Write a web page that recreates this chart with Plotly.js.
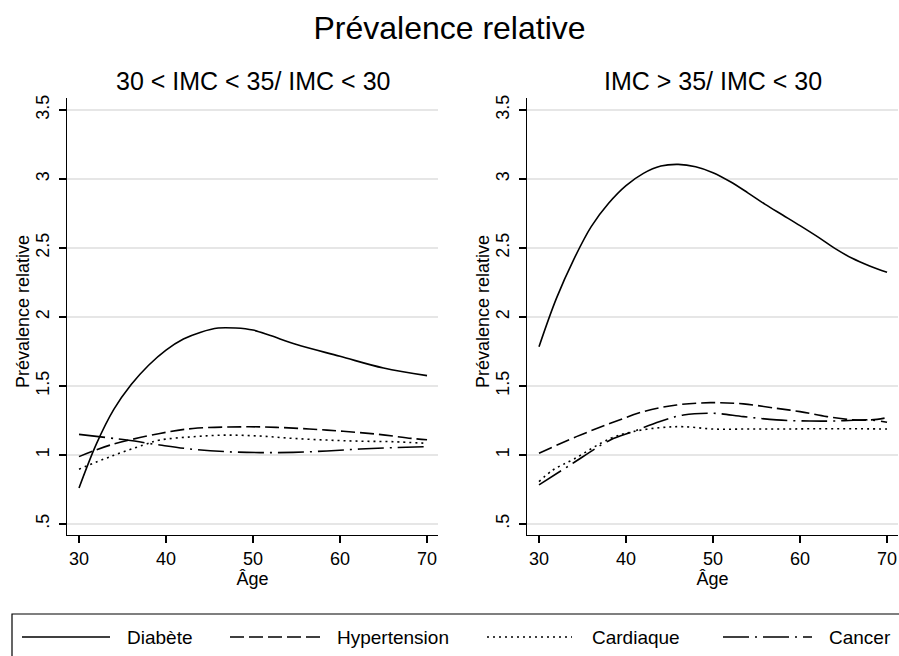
<!DOCTYPE html>
<html>
<head>
<meta charset="utf-8">
<script src="https://cdn.plot.ly/plotly-3.0.1.min.js"></script>
<style>html,body{margin:0;padding:0;background:#fff;}#chart{width:899px;height:656px;}</style>
</head>
<body>
<div id="chart"></div>
<script>
// ---- Data ----
const seriesNames = ["Diabète", "Hypertension", "Cardiaque", "Cancer"];
const panelTitles = ["30 < IMC < 35/ IMC < 30", "IMC > 35/ IMC < 30"];
const xTicks = [30, 40, 50, 60, 70];
const yTickVals = [0.5, 1, 1.5, 2, 2.5, 3, 3.5];
const yTickText = [".5", "1", "1.5", "2", "2.5", "3", "3.5"];

// Panel 1 : 30 < IMC < 35 / IMC < 30
const p1DiabeteAge = [30, 32, 34, 36, 38, 40, 42, 44, 46, 48, 50, 52, 55, 60, 65, 70];
const p1DiabeteVal = [0.76, 1.08, 1.33, 1.51, 1.65, 1.76, 1.84, 1.89, 1.92, 1.92, 1.905, 1.865, 1.80, 1.715, 1.63, 1.575];
const p1HyperAge = [30, 33.6, 39.3, 43.1, 48.9, 52.7, 58.5, 64.2, 68.2, 70];
const p1HyperVal = [0.988, 1.072, 1.156, 1.192, 1.204, 1.2, 1.18, 1.151, 1.12, 1.11];
const p1CardAge = [30, 33.6, 37.4, 39.3, 43.1, 46.9, 50.8, 54.6, 58.5, 62.3, 66.1, 70];
const p1CardVal = [0.897, 0.988, 1.072, 1.108, 1.132, 1.144, 1.137, 1.12, 1.108, 1.1, 1.096, 1.084];
const p1CancerAge = [30, 35.5, 39.3, 43.1, 46.9, 50.8, 54.6, 58.5, 62.3, 66.1, 70];
const p1CancerVal = [1.149, 1.108, 1.072, 1.041, 1.024, 1.017, 1.019, 1.029, 1.043, 1.053, 1.06];

// Panel 2 : IMC > 35 / IMC < 30
const p2DiabeteAge = [30, 32, 34, 36, 38, 40, 42, 44, 46, 48, 50, 52, 54, 56, 58, 60, 62, 64, 66, 68, 70];
const p2DiabeteVal = [1.785, 2.135, 2.418, 2.655, 2.824, 2.952, 3.041, 3.094, 3.106, 3.089, 3.046, 2.98, 2.90, 2.816, 2.739, 2.662, 2.582, 2.497, 2.425, 2.37, 2.324];
const p2HyperAge = [30, 34.3, 38.2, 42, 45.8, 49.7, 53.5, 57.3, 60, 63.1, 66.1, 68.2, 70];
const p2HyperVal = [1.012, 1.133, 1.229, 1.314, 1.362, 1.379, 1.37, 1.338, 1.314, 1.278, 1.254, 1.254, 1.27];
const p2CardAge = [30, 31.6, 34, 38.2, 40.8, 43.9, 46.6, 50, 54, 58, 62, 66, 70];
const p2CardVal = [0.807, 0.891, 0.97, 1.12, 1.169, 1.198, 1.205, 1.188, 1.188, 1.188, 1.19, 1.19, 1.188];
const p2CancerAge = [30, 33.6, 38.2, 40.8, 43.9, 46.6, 50, 53.5, 57.3, 61.1, 64, 68, 70];
const p2CancerVal = [0.783, 0.928, 1.109, 1.169, 1.242, 1.29, 1.302, 1.278, 1.254, 1.246, 1.246, 1.254, 1.237];

// ---- Styles ----
const dashes = ["solid", "14px,5px", "2px,4px", "26px,6px,2px,6px"];
const LW = 1.6;
const FONT = "Liberation Sans, Arial, Helvetica, sans-serif";

const panels = [
  [[p1DiabeteAge, p1DiabeteVal], [p1HyperAge, p1HyperVal], [p1CardAge, p1CardVal], [p1CancerAge, p1CancerVal]],
  [[p2DiabeteAge, p2DiabeteVal], [p2HyperAge, p2HyperVal], [p2CardAge, p2CardVal], [p2CancerAge, p2CancerVal]]
];

const traces = [];
panels.forEach((panel, pi) => {
  panel.forEach((s, si) => {
    traces.push({
      x: s[0], y: s[1], type: "scatter", mode: "lines",
      name: seriesNames[si], legendgroup: seriesNames[si], showlegend: false,
      xaxis: pi === 0 ? "x" : "x2", yaxis: pi === 0 ? "y" : "y2",
      line: {color: "#000", width: LW, dash: dashes[si], shape: "spline", smoothing: 1}
    });
  });
});

const W = 899, H = 656;
const px = v => v / W, py = v => 1 - v / H;

function xAxis(domain, anchor) {
  return {
    domain: domain, anchor: anchor, range: [28.62, 71.26], tickmode: "array", tickvals: xTicks,
    ticks: "outside", ticklen: 7, tickwidth: 1.2, tickcolor: "#000",
    showline: true, linecolor: "#000", linewidth: 1.3, showgrid: false, zeroline: false,
    tickfont: {family: FONT, size: 18, color: "#000"},
    title: {text: "Âge", font: {family: FONT, size: 18, color: "#000"}, standoff: 0},
    fixedrange: true
  };
}
function yAxis(anchor) {
  return {
    domain: [py(535), py(98)], range: [0.42, 3.587], tickmode: "array",
    tickvals: yTickVals, ticktext: yTickText, tickangle: -90,
    ticks: "outside", ticklen: 7, tickwidth: 1.2, tickcolor: "#000",
    ticklabelstandoff: 3,
    showline: true, linecolor: "#000", linewidth: 1.3,
    showgrid: true, gridcolor: "#e6e6e6", gridwidth: 1.5, zeroline: false,
    tickfont: {family: FONT, size: 18, color: "#000"},
    anchor: anchor, fixedrange: true
  };
}

// Custom legend (frame + samples + labels)
const legendY = py(637);
const legendSamples = [[22, 110], [230, 320], [487, 572], [723, 812]];
const legendTextX = [125, 335, 590, 827];
const shapes = [{
  type: "rect", xref: "paper", yref: "paper",
  x0: px(12), x1: 1.02, y0: py(614), y1: -0.05,
  line: {color: "#000", width: 1.2}, fillcolor: "rgba(0,0,0,0)", layer: "above"
}];
legendSamples.forEach((s, i) => {
  shapes.push({type: "line", xref: "paper", yref: "paper", x0: px(s[0]), x1: px(s[1]), y0: legendY, y1: legendY,
    line: {color: "#000", width: LW, dash: dashes[i]}});
});

const annotations = [
  {text: panelTitles[0], x: (px(67) + px(438)) / 2, y: py(81), xref: "paper", yref: "paper", showarrow: false,
   xanchor: "center", yanchor: "middle", font: {family: FONT, size: 25, color: "#000"}},
  {text: panelTitles[1], x: (px(527) + px(898)) / 2, y: py(81), xref: "paper", yref: "paper", showarrow: false,
   xanchor: "center", yanchor: "middle", font: {family: FONT, size: 25, color: "#000"}},
  {text: "Prévalence relative", x: px(23), y: py(312), xref: "paper", yref: "paper", showarrow: false,
   textangle: -90, xanchor: "center", yanchor: "middle", font: {family: FONT, size: 18, color: "#000"}},
  {text: "Prévalence relative", x: px(483), y: py(312), xref: "paper", yref: "paper", showarrow: false,
   textangle: -90, xanchor: "center", yanchor: "middle", font: {family: FONT, size: 18, color: "#000"}}
];
seriesNames.forEach((n, i) => {
  annotations.push({text: n, x: px(legendTextX[i]), y: legendY, xref: "paper", yref: "paper", showarrow: false,
    xanchor: "left", yanchor: "middle", font: {family: FONT, size: 19, color: "#000"}});
});

const layout = {
  width: W, height: H, margin: {l: 0, r: 0, t: 0, b: 0, pad: 0},
  paper_bgcolor: "#fff", plot_bgcolor: "#fff", showlegend: false,
  title: {text: "Prévalence relative", x: 0.5, xanchor: "center", y: py(28), yanchor: "middle",
          font: {family: FONT, size: 32, color: "#000"}},
  xaxis: xAxis([px(67), px(438)], "y"), yaxis: yAxis("x"),
  xaxis2: xAxis([px(527), px(898)], "y2"), yaxis2: yAxis("x2"),
  shapes: shapes, annotations: annotations
};

Plotly.newPlot("chart", traces, layout, {displayModeBar: false, staticPlot: true});
</script>
</body>
</html>
